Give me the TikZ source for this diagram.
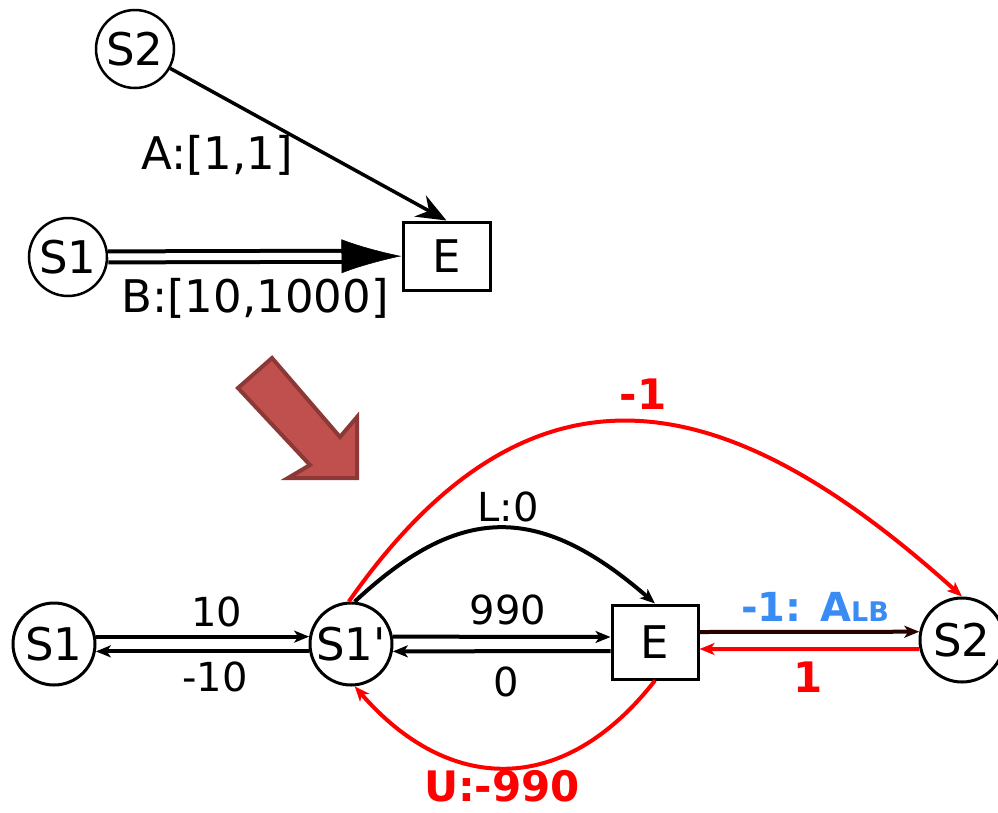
\documentclass[tikz,border=0pt]{standalone}
\usepackage{fontspec}
\setmainfont{DejaVu Sans}[Ligatures=TeXOff]
\usetikzlibrary{arrows.meta,calc}
\definecolor{arrowfill}{RGB}{192,80,77}
\definecolor{arrowdraw}{RGB}{140,56,54}
\definecolor{bluelab}{RGB}{58,140,245}
\definecolor{darkline}{RGB}{40,0,0}
\begin{document}
\begin{tikzpicture}[x=1pt,y=-1pt,
  topcirc/.style={circle, draw, line width=2.5pt, minimum size=78pt, inner sep=0pt, font=\fontsize{45}{48}\selectfont},
  botcirc/.style={circle, draw, line width=3pt, minimum size=82pt, inner sep=0pt, font=\fontsize{45}{48}\selectfont},
  ebox/.style={rectangle, draw, line width=3pt, inner sep=0pt, font=\fontsize{45}{48}\selectfont},
  toplab/.style={inner sep=0pt, font=\fontsize{45}{48}\selectfont},
  lab/.style={inner sep=0pt, font=\fontsize{40}{44}\selectfont},
  redlab/.style={inner sep=0pt, text=red, font=\bfseries\fontsize{42}{46}\selectfont},
  conn/.style={line width=4pt, -{Stealth[length=15pt,width=12pt,inset=4pt]}},
  dbl/.style={line width=4pt, double=white, double distance=7pt}
]
\useasboundingbox (0,0) rectangle (998,812);

% ---------- top graph ----------
\node[topcirc] (S2t) at (135,49) {S2};
\node[topcirc] (S1t) at (68,257) {S1};
\node[ebox, minimum width=87pt, minimum height=68pt] (Et) at (446.5,256) {E};

\draw[line width=3.5pt, -{Stealth[length=30pt,width=24pt,inset=10pt]}] (S2t) -- (Et.north);
\draw[dbl, shorten >=45pt] (S1t) -- (Et);
\draw[line width=0.5pt, shorten <=250pt, -{Latex[length=60pt,width=34pt]}] (S1t) -- (Et);

\node[toplab] (lA) at (217,155) {A:[1,1]};
\node[toplab] (lB) at (255,298) {B:[10,1000]};

% ---------- big arrow ----------
\draw[fill=arrowfill, draw=arrowdraw, line width=4pt, line join=miter]
  (272,358) -- (238,388) -- (310,465) -- (288,478) -- (357,478) -- (357,417) -- (340,437) -- cycle;

% ---------- bottom graph ----------
\node[botcirc] (S1b) at (54,644) {S1};
\node[botcirc] (S1p) at (351,644) {S1'};
\node[ebox, minimum width=86pt, minimum height=74pt] (Eb) at (655,642) {E};
\node[botcirc, minimum size=84pt] (S2b) at (962,640) {S2};

\draw[conn] (S1b.10) -- (S1p.170);
\draw[conn] (S1p.190) -- (S1b.-10);
\draw[conn] (S1p.10) -- ([yshift=5pt]Eb.west);
\draw[conn] ([yshift=-9pt]Eb.west) -- (S1p.-10);
\draw[conn, draw=darkline] ([yshift=10pt]Eb.east) -- (S2b.169);
\draw[conn, draw=red] (S2b.192) -- ([yshift=-7pt]Eb.east);

% arcs
\draw[conn, draw=red] (S1p.93) to[out=55, in=138, out looseness=1.38, in looseness=1.25] (S2b.north);
\draw[conn] (S1p.85) to[out=43, in=139, out looseness=1.19, in looseness=1.34] (Eb.north);
\draw[conn, draw=red] (Eb.south) to[out=-128, in=-49, out looseness=1.28, in looseness=1.2] (S1p.-85);

% labels
\node[lab] (l10) at (217,612) {10};
\node[lab] (lm10) at (215,677) {-10};
\node[lab] (l990) at (508,610) {990};
\node[lab] (l0) at (506,682) {0};
\node[lab] (lL) at (508,507) {L:0};
\node[redlab] (lm1) at (643,394) {-1};
\node[redlab] (lU) at (502,786) {U:-990};
\node[redlab] (l1) at (808,677) {1};
\node[inner sep=0pt, text=bluelab, font=\bfseries\fontsize{40}{44}\selectfont] (lALB) at (815,607) {-1: A{\fontsize{27}{30}\selectfont LB}};
\end{tikzpicture}
\end{document}
